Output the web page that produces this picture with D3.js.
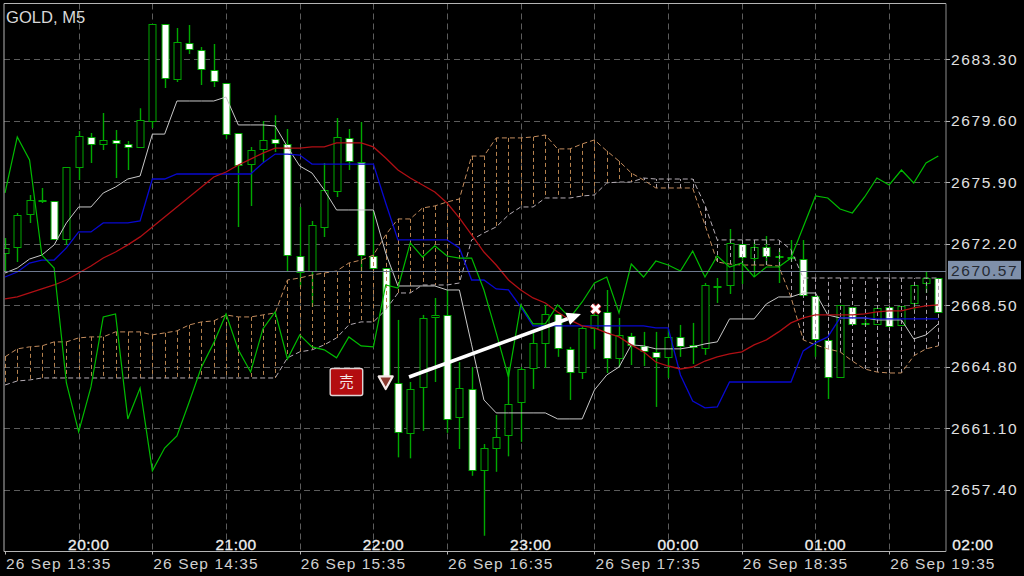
<!DOCTYPE html>
<html><head><meta charset="utf-8">
<style>html,body{margin:0;padding:0;background:#000}svg{display:block}</style>
<script src="https://cdn.jsdelivr.net/npm/d3@7/dist/d3.min.js"></script>
</head><body><svg id="c" width="1024" height="576"></svg>
<script>
const symbolTitle = "GOLD, M5";
const lastPrice = 2670.57;
const priceTicks = [2683.30,2679.60,2675.90,2672.20,2668.50,2664.80,2661.10,2657.40];
const hourBars = [6,18,30,42,54,66,78];
const hourLabels = ["20:00","21:00","22:00","23:00","00:00","01:00","02:00"];
const dateBars = [0,12,24,36,48,60,72];
const dateLabels = ["26 Sep 13:35","26 Sep 14:35","26 Sep 15:35","26 Sep 16:35","26 Sep 17:35","26 Sep 18:35","26 Sep 19:35"];
const gridBars = [6,12,18,24,30,36,42,48,54,60,66,72];

const open = [2671.64,2672.01,2673.99,2674.77,2674.77,2672.49,2676.81,2678.62,2678.20,2678.44,
2678.20,2678.02,2679.57,2685.41,2682.10,2684.27,2683.85,2682.64,2681.86,2678.85,
2676.99,2677.90,2678.49,2678.20,2671.46,2670.56,2673.21,2675.37,2678.56,2677.11,
2671.46,2670.74,2663.83,2660.83,2663.59,2667.80,2667.92,2661.79,2663.47,2658.61,
2659.92,2660.71,2662.69,2664.73,2666.24,2667.98,2665.88,2664.49,2667.14,2668.10,
2665.34,2666.66,2666.06,2665.70,2665.40,2666.60,2666.12,2665.94,2669.60,2669.72,
2672.19,2671.34,2672.01,2671.46,2671.40,2671.28,2669.06,2666.42,2664.19,2668.40,
2667.41,2667.38,2668.40,2667.32,2668.64,2669.84,2670.14];
const high = [2672.55,2674.05,2675.13,2675.55,2674.77,2676.81,2678.98,2678.86,2680.06,2679.04,
2678.38,2680.35,2685.41,2685.41,2685.17,2685.35,2684.03,2684.21,2681.86,2678.85,
2678.02,2679.57,2679.93,2679.10,2674.41,2673.57,2677.05,2679.75,2679.10,2679.51,
2674.17,2670.74,2667.62,2663.89,2667.92,2668.94,2669.42,2665.09,2664.79,2660.16,
2661.91,2664.79,2664.79,2666.84,2668.52,2667.98,2666.00,2667.26,2668.34,2669.42,
2667.74,2666.84,2666.90,2666.90,2667.08,2667.32,2667.44,2669.84,2670.14,2673.09,
2672.19,2672.31,2672.67,2671.85,2672.43,2672.43,2669.06,2666.42,2668.52,2668.40,
2667.74,2668.34,2668.40,2668.46,2669.72,2670.56,2670.14];
const low = [2670.50,2671.10,2673.45,2674.65,2672.49,2672.13,2676.03,2677.05,2677.84,2676.15,
2676.63,2678.02,2679.16,2681.56,2681.92,2683.60,2681.74,2681.62,2678.49,2673.21,
2674.47,2677.11,2677.72,2670.50,2669.60,2668.40,2672.61,2675.01,2676.63,2670.56,
2670.62,2664.25,2659.36,2659.30,2660.95,2663.89,2660.83,2659.86,2658.25,2654.64,
2658.49,2659.42,2660.29,2663.47,2664.73,2665.40,2662.81,2664.07,2665.88,2664.43,
2664.79,2664.91,2664.85,2662.39,2664.13,2665.40,2664.97,2665.52,2668.64,2669.18,
2669.78,2670.20,2670.92,2669.84,2671.10,2669.12,2665.40,2662.87,2664.19,2667.38,
2667.26,2667.38,2667.26,2667.32,2668.22,2669.24,2668.10];
const close = [2671.95,2673.93,2674.83,2674.83,2672.49,2676.81,2678.68,2678.20,2678.44,2678.26,
2678.02,2679.63,2685.41,2682.16,2684.33,2683.91,2682.70,2681.98,2678.79,2676.93,
2677.84,2678.44,2678.26,2671.52,2670.50,2673.33,2675.43,2678.62,2677.17,2671.52,
2670.74,2664.25,2660.89,2663.47,2667.74,2667.92,2661.67,2663.53,2658.61,2659.92,
2660.59,2662.57,2664.67,2666.24,2667.98,2665.94,2664.49,2667.14,2667.92,2665.34,
2666.72,2666.12,2665.76,2665.40,2666.60,2666.06,2666.00,2669.72,2669.66,2672.25,
2671.40,2672.01,2671.46,2671.40,2671.34,2669.12,2666.48,2664.19,2668.52,2667.38,
2667.35,2668.34,2667.26,2668.46,2669.72,2670.14,2668.10];

const tenkan = [2670.44,2670.74,2671.28,2671.52,2672.13,2673.45,2674.41,2674.41,2675.25,2675.61,
2676.09,2676.27,2678.79,2678.79,2680.78,2680.78,2680.78,2680.78,2681.02,2679.34,
2679.34,2679.34,2679.28,2678.02,2676.87,2676.45,2675.43,2674.23,2674.23,2674.23,
2674.23,2671.64,2669.66,2669.66,2669.66,2669.66,2669.42,2669.42,2666.12,2662.81,
2662.03,2662.03,2662.03,2662.03,2662.03,2661.67,2661.67,2661.67,2663.41,2664.31,
2664.79,2666.12,2666.06,2665.88,2665.88,2665.88,2666.00,2666.18,2666.30,2667.68,
2667.68,2667.68,2668.58,2669.00,2669.00,2669.24,2669.24,2667.92,2667.74,2667.74,
2667.74,2667.62,2667.62,2667.62,2666.48,2666.72,2667.38];
const kijun = [2670.20,2670.50,2671.04,2671.22,2671.22,2671.95,2672.91,2672.91,2673.45,2673.45,
2673.45,2673.57,2676.09,2676.09,2676.39,2676.39,2676.39,2676.39,2676.39,2676.39,
2676.39,2677.05,2677.59,2677.59,2677.53,2676.99,2676.99,2676.99,2676.99,2676.99,
2676.99,2674.65,2672.43,2672.43,2672.43,2672.43,2672.43,2671.95,2670.02,2670.02,
2669.48,2669.42,2668.40,2667.26,2667.26,2667.26,2667.26,2667.26,2667.26,2667.26,
2667.26,2667.26,2667.26,2667.14,2667.14,2664.31,2662.75,2662.33,2662.39,2663.89,
2663.89,2663.89,2663.89,2663.89,2663.89,2665.76,2666.24,2666.60,2667.74,2667.74,
2667.74,2667.68,2667.68,2667.68,2667.68,2667.68,2667.68];
const movingAverage = [2668.88,2669.00,2669.24,2669.48,2669.72,2670.02,2670.44,2670.86,2671.34,2671.70,
2672.13,2672.61,2673.21,2673.81,2674.41,2675.01,2675.61,2676.21,2676.51,2676.93,
2677.29,2677.65,2677.95,2677.95,2677.95,2678.02,2678.02,2678.26,2678.26,2678.26,
2678.02,2677.35,2676.63,2676.15,2675.73,2675.31,2674.65,2673.75,2672.73,2671.70,
2670.92,2670.02,2669.42,2668.94,2668.64,2668.10,2667.62,2667.26,2667.14,2666.84,
2666.60,2666.12,2665.70,2665.09,2664.85,2664.67,2664.79,2665.15,2665.40,2665.58,
2665.70,2666.12,2666.42,2666.90,2667.44,2667.74,2667.92,2667.92,2667.92,2667.92,
2667.98,2668.10,2668.16,2668.16,2668.34,2668.46,2668.52];
const chikou = [2675.25,2678.62,2677.23,2671.52,2670.74,2663.83,2660.89,2663.59,2667.80,2667.98,
2661.67,2663.53,2658.55,2659.92,2660.65,2662.69,2664.79,2666.24,2667.98,2665.82,
2664.49,2667.08,2668.10,2665.27,2666.72,2666.00,2665.82,2665.34,2666.60,2666.06,
2666.00,2669.72,2669.54,2672.25,2671.40,2672.07,2671.46,2671.34,2671.34,2669.42,
2666.84,2664.19,2668.52,2667.38,2667.38,2668.52,2667.74,2668.70,2669.84,2670.20,
2668.04,2670.98,2670.20,2671.16,2670.92,2670.56,2671.76,2670.20,2671.46,2670.80,
2671.04,2670.20,2670.80,2670.80,2671.34,2673.21,2675.07,2674.95,2674.29,2674.05,
2675.01,2676.15,2675.73,2676.63,2675.85,2677.05,2677.47];
const spanA = [2665.40,2665.88,2666.00,2666.06,2666.30,2666.30,2666.54,2666.60,2666.60,2666.90,
2666.90,2666.90,2666.72,2666.84,2666.96,2667.32,2667.50,2667.56,2667.92,2667.80,
2667.80,2667.92,2668.04,2670.02,2670.14,2670.32,2670.44,2670.56,2671.04,2671.22,
2671.52,2672.73,2673.69,2673.69,2674.35,2674.47,2674.71,2674.89,2677.47,2677.47,
2678.56,2678.56,2678.56,2678.62,2678.74,2677.90,2677.90,2678.20,2678.44,2677.78,
2677.17,2676.45,2676.03,2675.55,2675.55,2675.55,2675.55,2673.33,2671.10,2670.98,
2670.92,2670.92,2670.92,2670.86,2669.00,2666.42,2666.12,2665.88,2665.70,2665.15,
2664.67,2664.49,2664.43,2664.43,2665.46,2665.88,2666.06];
const spanB = [2663.71,2663.95,2664.01,2664.13,2664.13,2664.13,2664.13,2664.13,2664.13,2664.13,
2664.13,2664.13,2664.13,2664.13,2664.13,2664.13,2664.13,2664.13,2664.13,2664.13,
2664.13,2664.13,2664.13,2665.34,2665.70,2665.82,2666.12,2666.54,2667.32,2667.50,
2667.50,2668.22,2669.24,2669.24,2669.72,2669.72,2669.72,2669.84,2672.43,2672.85,
2673.21,2673.93,2674.41,2674.41,2674.95,2674.95,2674.95,2675.07,2675.13,2675.85,
2675.91,2675.91,2676.15,2676.09,2676.09,2676.09,2676.09,2674.53,2672.43,2672.43,
2672.43,2672.43,2672.43,2672.43,2671.85,2670.14,2670.14,2670.14,2670.14,2670.14,
2670.14,2670.14,2670.14,2670.14,2670.14,2670.14,2670.14];

const sellBar = 31, sellPrice = 2663.83, sellLabel = "売";
const exitBar = 48.1, exitPrice = 2668.28;
const arrowFrom = [32.9, 2664.19], arrowTo = [46.9, 2667.98];

const frame = {l:4,t:3.5,r:946,b:551.5};
const bars = d3.range(open.length);
const x = d3.scaleLinear().domain([0,76]).range([5,938.3]);
const y = d3.scaleLinear().domain([2686.67,2653.73]).range([3,551]);
const svg = d3.select("#c");
svg.append("clipPath").attr("id","plot").append("rect")
  .attr("x",frame.l).attr("y",frame.t).attr("width",frame.r-frame.l).attr("height",frame.b-frame.t);
const FONT = "'Liberation Sans',Arial,sans-serif";
const green = "#00a800", chikouGreen = "#00bc00";
const px = v => Math.round(v)+0.5;

// grid
const grid = svg.append("g").attr("stroke","#5c5c5c").attr("stroke-dasharray","6 4").attr("fill","none");
grid.selectAll("line.h").data(priceTicks).join("line").attr("class","h")
  .attr("x1",frame.l).attr("x2",frame.r).attr("y1",d=>px(y(d))).attr("y2",d=>px(y(d)));
grid.selectAll("line.v").data(gridBars).join("line").attr("class","v")
  .attr("x1",d=>px(x(d))).attr("x2",d=>px(x(d))).attr("y1",frame.t).attr("y2",frame.b);

// candles
const cg = svg.append("g").attr("clip-path","url(#plot)");
cg.selectAll("line").data(bars).join("line")
  .attr("x1",i=>px(x(i))).attr("x2",i=>px(x(i)))
  .attr("y1",i=>y(high[i])).attr("y2",i=>y(low[i]))
  .attr("stroke",green).attr("stroke-width",1.4);
cg.selectAll("rect").data(bars).join("rect")
  .attr("x",i=>px(x(i))-3.5).attr("width",7)
  .attr("y",i=>Math.round(y(Math.max(open[i],close[i])))+0.5)
  .attr("height",i=>Math.max(1,Math.round(Math.abs(y(open[i])-y(close[i])))))
  .attr("fill",i=>close[i]<open[i]?"#fff":"#000")
  .attr("stroke",green).attr("stroke-width",1);

// cloud hatching
const hatch = svg.append("g").attr("stroke-dasharray","4 3").attr("stroke-width",1);
hatch.selectAll("line").data(bars).join("line")
  .attr("x1",i=>px(x(i))).attr("x2",i=>px(x(i)))
  .attr("y1",i=>y(spanA[i])).attr("y2",i=>y(spanB[i]))
  .attr("stroke",i=>spanA[i]>spanB[i]?"#b5824f":"#a8a0a8");

const line = d3.line().x((d,i)=>x(i)).y(d=>y(d));
const addLine = (data,color,w,dash)=>svg.append("path").datum(data).attr("d",line)
  .attr("fill","none").attr("stroke",color).attr("stroke-width",w).attr("stroke-dasharray",dash||null);
addLine(spanB,"#b4acb4",1,"5 3");
addLine(spanA,"#c48d5e",1,"5 3");
addLine(tenkan,"#c8c8c8",1);
addLine(kijun,"#0808d0",1.3);
addLine(movingAverage,"#b00f14",1.3);
addLine(chikou,chikouGreen,1.2);

// price line
svg.append("line").attr("x1",frame.l).attr("x2",frame.r).attr("y1",px(y(lastPrice))).attr("y2",px(y(lastPrice)))
  .attr("stroke","#6f7a90").attr("stroke-width",1);

// frame
svg.append("path").attr("d",`M${frame.r},${frame.t}H${frame.l}V${frame.b}H${frame.r}`).attr("fill","none").attr("stroke","#b4b4b4");
svg.append("line").attr("x1",frame.r).attr("x2",frame.r).attr("y1",frame.t).attr("y2",frame.b).attr("stroke","#8c8c8c");
svg.append("g").selectAll("line").data(dateBars).join("line")
  .attr("x1",d=>px(x(d))).attr("x2",d=>px(x(d))).attr("y1",frame.b).attr("y2",frame.b+3).attr("stroke","#b4b4b4");
svg.append("g").selectAll("line").data(priceTicks).join("line")
  .attr("x1",frame.r).attr("x2",frame.r+4).attr("y1",d=>px(y(d))).attr("y2",d=>px(y(d))).attr("stroke","#b4b4b4");

// texts
const text = (s,tx,ty,size,color,ls,anchor,weight)=>svg.append("text").text(s).attr("x",tx).attr("y",ty)
  .attr("font-family",FONT).attr("font-size",size).attr("fill",color)
  .attr("letter-spacing",ls||0).attr("text-anchor",anchor||"start").attr("font-weight",weight||400);
text(symbolTitle,6,22.5,16.6,"#d8d8d8");
priceTicks.forEach(p=>text(p.toFixed(2),951,y(p)+5.5,15.5,"#e0e0e0",1.6));
hourLabels.forEach((s,k)=>text(s,x(hourBars[k])+10,549.5,15.5,"#f0f0f0",0.5,"middle").attr("stroke","#f0f0f0").attr("stroke-width",0.3));
dateLabels.forEach((s,k)=>text(s,x(dateBars[k])+1,568.5,15.5,"#d0d0d0",1.1));

// last price tag
svg.append("rect").attr("x",948).attr("y",y(lastPrice)-10).attr("width",73).attr("height",18.5).attr("fill","#7f90aa");
text(lastPrice.toFixed(2),951,y(lastPrice)+5.5,15.5,"#252a33",1.6);

// arrow
const ax1=x(arrowFrom[0]),ay1=y(arrowFrom[1]),ax2=x(arrowTo[0]),ay2=y(arrowTo[1]);
const ang=Math.atan2(ay2-ay1,ax2-ax1),ca=Math.cos(ang),sa=Math.sin(ang);
const bx=ax2-ca*14,by=ay2-sa*14;
svg.append("line").attr("x1",ax1).attr("y1",ay1).attr("x2",bx).attr("y2",by).attr("stroke","#fff").attr("stroke-width",3.6);
svg.append("path").attr("d",`M${ax2},${ay2}L${bx-sa*6.5},${by+ca*6.5}L${bx+sa*6.5},${by-ca*6.5}Z`).attr("fill","#fff");

// sell marker
const sx=x(sellBar), sy=y(sellPrice);
svg.append("path").attr("d",`M${sx-7},${sy-6.5}H${sx+7}L${sx},${sy+6}Z`).attr("fill","#8a3a30").attr("stroke","#f6ecea").attr("stroke-width",2.2).attr("stroke-linejoin","round");
svg.append("rect").attr("x",sx-55.5).attr("y",sy-14.5).attr("width",32.5).attr("height",27).attr("rx",2)
  .attr("fill","#b30d10").attr("stroke","#e0d4d4").attr("stroke-width",1.4);
svg.append("text").text(sellLabel).attr("x",sx-39.2).attr("y",sy+4.5).attr("text-anchor","middle")
  .attr("font-family","'Noto Sans CJK JP',sans-serif").attr("font-size",14.5).attr("fill","#f4e8e8");

// exit marker
const ex=x(exitBar), ey=y(exitPrice);
[["#c8202a",4.8],["#ffffff",3.2]].forEach(([c,w])=>{
  svg.append("path").attr("d",`M${ex-4},${ey-4}L${ex+4},${ey+4}M${ex+4},${ey-4}L${ex-4},${ey+4}`)
    .attr("stroke",c).attr("stroke-width",w).attr("fill","none");
});
</script></body></html>
